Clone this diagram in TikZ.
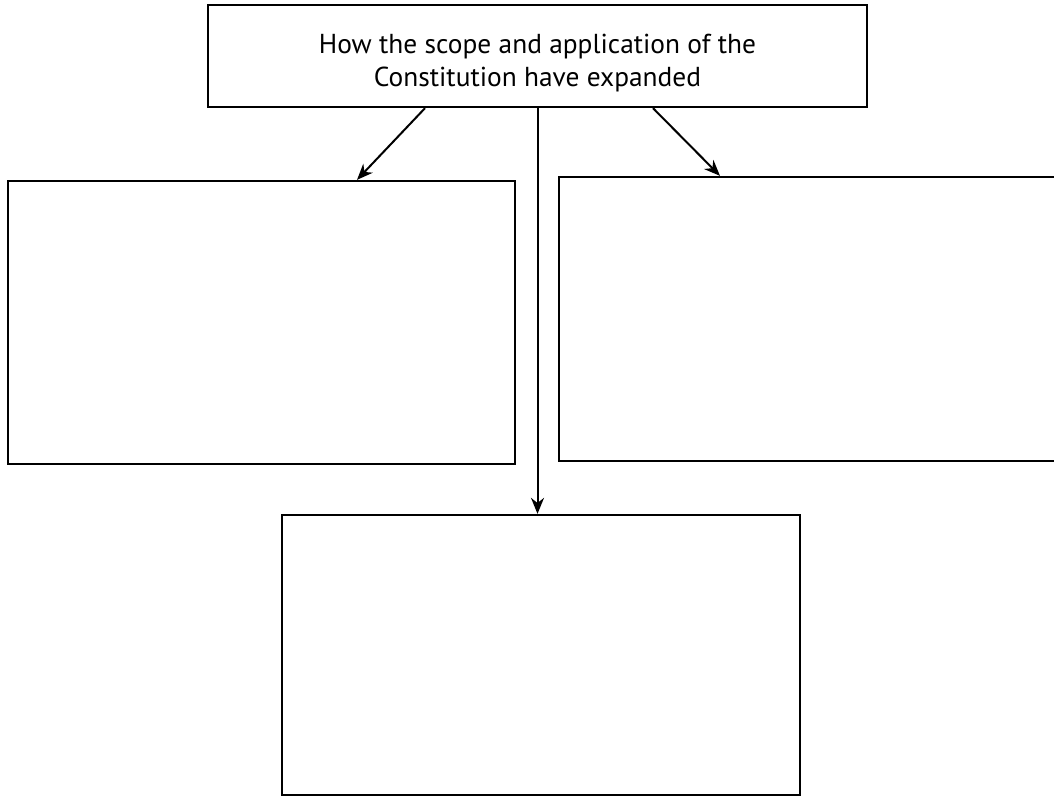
\documentclass[tikz,border=0pt]{standalone}
\usepackage{fontspec}
\setmainfont{PT Sans}
\usetikzlibrary{arrows.meta}
\tikzset{
  box/.style={draw=black, line width=2.3pt, rectangle, inner sep=0pt, fill=none},
  arr/.style={draw=black, line width=2pt, -{Stealth[length=16pt,width=13pt]}},
}
\begin{document}
\begin{tikzpicture}[x=1pt,y=-1pt]
\useasboundingbox (0,0) rectangle (1054,799);
\node[box, minimum width=659pt, minimum height=102pt,
      font=\fontsize{27.4}{33}\selectfont] (top) at (537.5,56)
  {\raisebox{-14pt}[0pt][0pt]{\begin{tabular}{@{}c@{}}How the scope and application of the\\Constitution have expanded\end{tabular}}};
\node[box, minimum width=507pt, minimum height=283pt] (left) at (261.5,322.5) {};
\node[box, minimum width=501pt, minimum height=284pt] (right) at (809.5,319) {};
\node[box, minimum width=518pt, minimum height=280pt] (bottom) at (541,655) {};
\draw[arr] ([xshift=-112.5pt]top.south) -- ([xshift=95.5pt]left.north);
\draw[arr] ([xshift=115.5pt]top.south) -- ([xshift=-89.5pt]right.north);
\draw[arr] (top.south) -- (top.south |- bottom.north);
\end{tikzpicture}
\end{document}
